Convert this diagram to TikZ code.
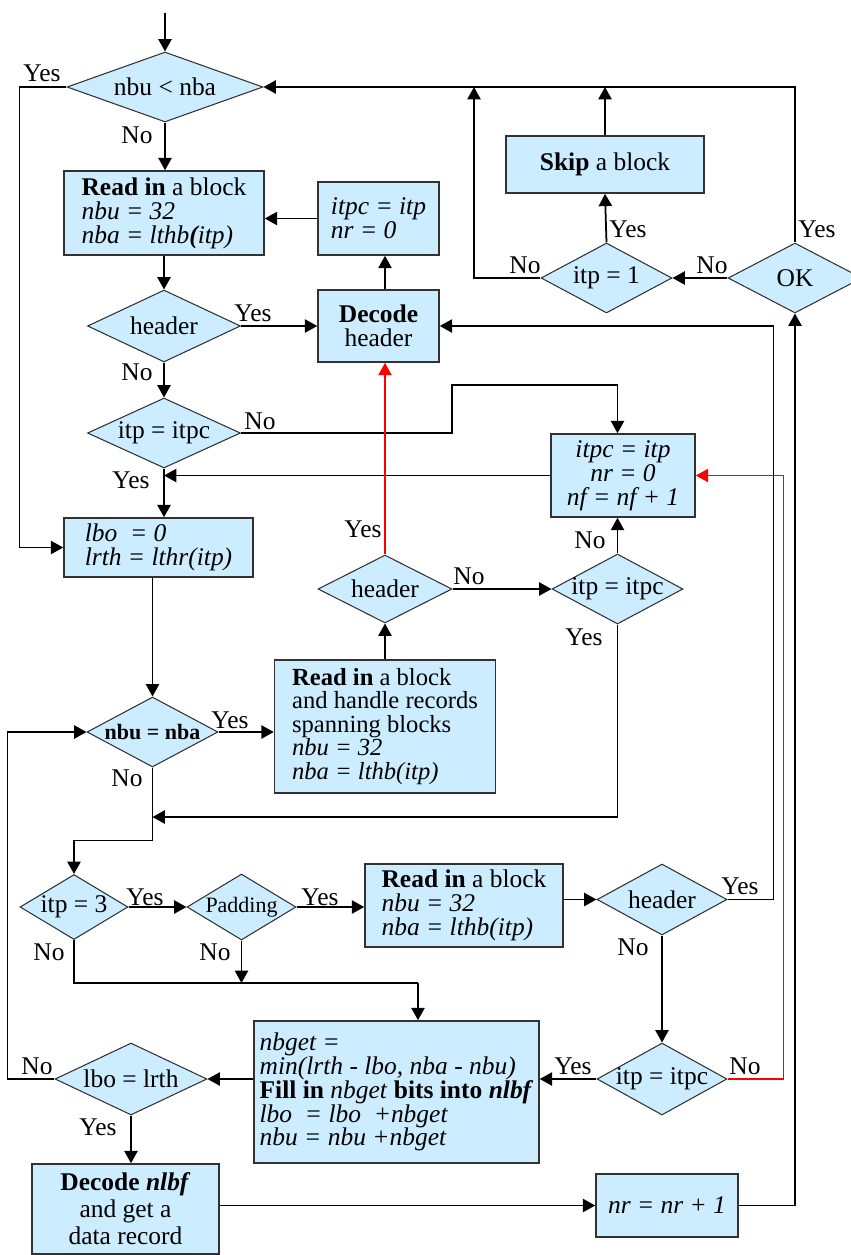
\documentclass[tikz,border=0pt]{standalone}
\usepackage{fontspec}
\setmainfont{Liberation Serif}
\usetikzlibrary{shapes.geometric,arrows.meta}

\begin{document}
\begin{tikzpicture}[x=0.02cm,y=-0.02cm,
        every node/.style={font=\fontsize{14.5pt}{13.6pt}\selectfont},
        blk/.style={draw=linegray,fill=boxblue,line width=0.9pt,inner sep=0pt},
        dec/.style={diamond,draw=linegray,fill=boxblue,line width=0.6pt,inner sep=-2pt},
        lbl/.style={inner sep=0pt},
        arr/.style={line width=1pt,-{Triangle[length=7pt,width=7.5pt]}},
        redarr/.style={arr,red,line width=0.8pt}]
        \definecolor{boxblue}{RGB}{204,236,255}
        \definecolor{linegray}{RGB}{50,50,50}

        \useasboundingbox (0,0) rectangle (851,1255);

        \node[dec,minimum width=3.92cm,minimum height=1.4cm,aspect=2.8] (d1) at (165,87) {nbu < nba};
        \node[blk,minimum width=4cm,minimum height=1.68cm,align=left] (rd1) at (164,213) {\textbf{Read in} a block\\\textit{nbu = 32}\\\textit{nba = lthb\textbf{(}itp)}};
        \node[blk,minimum width=2.42cm,minimum height=1.46cm,align=left] (ini) at (378.5,218.5) {\textit{itpc = itp}\\\textit{nr = 0}};
        \node[blk,minimum width=2.42cm,minimum height=1.44cm,align=center] (dech) at (378.5,326) {\textbf{Decode}\\header};
        \node[dec,minimum width=3.06cm,minimum height=1.44cm,aspect=2.1] (hd1) at (164,326) {header};
        \node[dec,minimum width=3.06cm,minimum height=1.4cm,aspect=2.2] (eq1) at (164,433) {itp = itpc};
        \node[blk,minimum width=2.88cm,minimum height=1.66cm,align=center] (nf) at (623,475.5) {\textit{itpc = itp}\\\textit{nr = 0}\\\textit{nf = nf + 1}};
        \node[blk,minimum width=3.78cm,minimum height=1.18cm,align=left] (lb) at (158.5,547.5) {\textit{lbo\ \ = 0}\\\textit{lrth = lthr(itp)}};
        \node[dec,minimum width=2.68cm,minimum height=1.36cm,aspect=2] (hd2) at (385,589) {header};
        \node[dec,minimum width=2.62cm,minimum height=1.4cm,aspect=1.9] (eq2) at (617.5,589) {itp = itpc};
        \node[blk,minimum width=4.42cm,minimum height=2.66cm,align=left,font=\fontsize{14pt}{13.4pt}\selectfont] (rd2) at (385,726.5) {\textbf{Read in} a block\\and handle records\\spanning blocks\\\textit{nbu = 32}\\\textit{nba = lthb(itp)}};
        \node[dec,minimum width=2.62cm,minimum height=1.4cm,aspect=1.9,font=\fontsize{12.5pt}{14pt}\selectfont\bfseries] (bu) at (152.5,732) {nbu = nba};
        \node[dec,minimum width=2.16cm,minimum height=1.3cm,aspect=1.7] (t3) at (74,907) {itp = 3};
        \node[dec,minimum width=2.18cm,minimum height=1.32cm,aspect=1.7,font=\fontsize{12.5pt}{14pt}\selectfont] (pad) at (241.5,907) {Padding};
        \node[blk,minimum width=3.96cm,minimum height=1.66cm,align=left] (rd3) at (464,905.5) {\textbf{Read in} a block\\\textit{nbu = 32}\\\textit{nba = lthb(itp)}};
        \node[dec,minimum width=2.6cm,minimum height=1.42cm,aspect=1.8] (hd3) at (662,899.5) {header};
        \node[dec,minimum width=2.6cm,minimum height=1.44cm,aspect=1.8] (eq3) at (662,1079) {itp = itpc};
        \node[blk,minimum width=5.7cm,minimum height=2.84cm,align=left] (fill) at (396.5,1092) {\textit{nbget =}\\\textit{min(lrth - lbo, nba - nbu)}\\\textbf{Fill in} \textit{nbget} \textbf{bits into \textit{nlbf}}\\\textit{lbo\ \ = lbo\ \ +nbget}\\\textit{nbu = nbu +nbget}};
        \node[dec,minimum width=3.04cm,minimum height=1.44cm,aspect=2.1] (lr) at (131,1079) {lbo = lrth};
        \node[blk,minimum width=3.74cm,minimum height=1.8cm,align=center,font=\fontsize{14.5pt}{15.3pt}\selectfont] (dn) at (125.5,1209) {\textbf{Decode \textit{nlbf}}\\and get a\\data record};
        \node[blk,minimum width=2.84cm,minimum height=1.26cm] (nr) at (667,1205.5) {\textit{nr = nr + 1}};
        \node[dec,minimum width=2.68cm,minimum height=1.4cm,aspect=1.9] (ok) at (795,278) {OK};
        \node[dec,minimum width=2.62cm,minimum height=1.4cm,aspect=1.9] (it1) at (606.5,278) {itp = 1};
        \node[blk,minimum width=3.96cm,minimum height=1.14cm] (sk) at (605,164.5) {\textbf{Skip} a block};

        \node[lbl] (y1) at (42,73) {Yes};
        \node[lbl] (n1) at (137,135) {No};
        \node[lbl] (y2) at (253,313) {Yes};
        \node[lbl] (n2) at (137,372) {No};
        \node[lbl] (n3) at (260,421) {No};
        \node[lbl] (y3) at (131,480) {Yes};
        \node[lbl] (y4) at (363,529) {Yes};
        \node[lbl] (n4) at (469,576) {No};
        \node[lbl] (n5) at (590,540) {No};
        \node[lbl] (y5) at (584,637) {Yes};
        \node[lbl] (y6) at (230,720) {Yes};
        \node[lbl] (n6) at (127,778) {No};
        \node[lbl] (y7) at (145,897) {Yes};
        \node[lbl] (y8) at (320,897) {Yes};
        \node[lbl] (y9) at (740,886) {Yes};
        \node[lbl] (n7) at (49,952) {No};
        \node[lbl] (n8) at (215,952) {No};
        \node[lbl] (n9) at (633,947) {No};
        \node[lbl] (y10) at (573,1066) {Yes};
        \node[lbl] (n10) at (745,1066) {No};
        \node[lbl] (n11) at (37,1066) {No};
        \node[lbl] (y11) at (98,1127) {Yes};
        \node[lbl] (y12) at (817,229) {Yes};
        \node[lbl] (n12) at (712,265) {No};
        \node[lbl] (y13) at (628,229) {Yes};
        \node[lbl] (n13) at (525,265) {No};

        \coordinate (start) at (165,13);
        \coordinate (mrg) at (152.5,817);
        \coordinate (fj) at (418,983);
        \coordinate (up1) at (474,87);

        \draw[arr] (start) -- (d1.north);
        \draw[arr] (d1.south) -- (d1.south |- rd1.north);
        \draw[arr] (d1.west) -- ++(-47,0) |- (lb.west);
        \draw[arr] (rd1.south -| hd1.north) -- (hd1.north);
        \draw[arr] (ini.west) -- (ini.west -| rd1.east);
        \draw[arr] (hd2.north |- dech.north) -- (hd2.north |- ini.south);
        \draw[arr] (hd1.east) -- (dech.west);
        \draw[arr] (hd1.south) -- (eq1.north);
        \draw[arr] (eq1.east) -| (452,385) -| (eq2.north |- nf.north);
        \draw[arr] (nf.west) -- (nf.west -| eq1.south);
        \draw[arr] (eq1.south) -- (eq1.south |- lb.north);
        \draw[arr] (bu.north |- lb.south) -- (bu.north);
        \draw[redarr] (hd2.north) -- (dech.south -| hd2.north);
        \draw[arr] (hd2.east) -- (eq2.west);
        \draw[arr] (eq2.north) -- (eq2.north |- nf.south);
        \draw[arr] (eq2.south) |- (mrg);
        \draw[arr] (rd2.north) -- (hd2.south);
        \draw[arr] (bu.east) -- (bu.east -| rd2.west);
        \draw[arr] (bu.south) -- ++(0,73) -| (t3.north);
        \draw[arr] (t3.east) -- (pad.west);
        \draw[arr] (pad.east) -- (pad.east -| rd3.west);
        \draw[arr] (rd3.east |- hd3.west) -- (hd3.west);
        \draw[arr] (hd3.east) -- ++(46,0) |- (dech.east);
        \draw[arr] (hd3.south) -- (eq3.north);
        \draw[redarr] (eq3.east) -- ++(56,0) |- (nf.east);
        \draw[arr] (eq3.west) -- (eq3.west -| fill.east);
        \draw[line width=1pt] (t3.south) |- (fj);
        \draw[arr] (fj) -- (fj |- fill.north);
        \draw[arr] (pad.south) -- (pad.south |- fj);
        \draw[arr] (lr.east -| fill.west) -- (lr.east);
        \draw[arr] (lr.west) -- ++(-47,0) |- (bu.west);
        \draw[arr] (lr.south) -- (lr.south |- dn.north);
        \draw[arr] (dn.east |- nr.west) -- (nr.west);
        \draw[arr] (nr.east) -| (ok.south);
        \draw[arr] (ok.north) |- (d1.east);
        \draw[arr] (ok.west) -- (it1.east);
        \draw[arr] (it1.north) -- (sk.south);
        \draw[arr] (sk.north) -- (sk.north |- d1.east);
        \draw[arr] (it1.west) -| (up1);
\end{tikzpicture}
\end{document}
